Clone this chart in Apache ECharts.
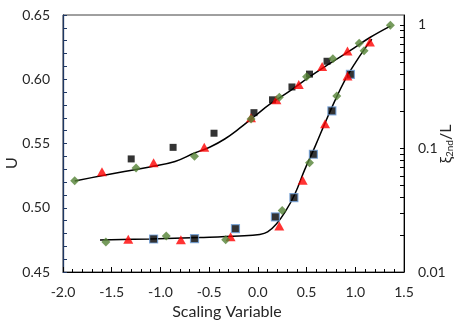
<!DOCTYPE html>
<html><head><meta charset="utf-8">
<script src="https://cdn.jsdelivr.net/npm/echarts@6/dist/echarts.min.js"></script>
<style>html,body{margin:0;padding:0;background:#fff}#c{width:465px;height:329px}</style>
</head><body><div id="c"></div>
<script>
// ---- Upper branch (left axis, U) ----
const uSqX = [-1.30, -0.87, -0.45, -0.04, 0.15, 0.35, 0.53, 0.71];
const uSqY = [0.538, 0.547, 0.558, 0.574, 0.584, 0.594, 0.604, 0.614];
const uDiX = [-1.88, -1.25, -0.65, -0.07, 0.22, 0.50, 0.77, 1.04, 1.36];
const uDiY = [0.521, 0.531, 0.540, 0.569, 0.586, 0.602, 0.616, 0.628, 0.642];
const uTrX = [-1.60, -1.07, -0.55, -0.07, 0.19, 0.42, 0.66, 0.92];
const uTrY = [0.528, 0.535, 0.547, 0.570, 0.584, 0.596, 0.610, 0.622];
const uFitX = [-1.88, -1.62, -1.37, -1.11, -0.85, -0.65, -0.49, -0.34, -0.19, -0.03, 0.12, 0.33, 0.53, 0.74, 0.95, 1.15, 1.36];
const uFitY = [0.5208, 0.5247, 0.5282, 0.5317, 0.5360, 0.5426, 0.5473, 0.5535, 0.5617, 0.5714, 0.5804, 0.5909, 0.6018, 0.6123, 0.6224, 0.6325, 0.6414];
// ---- Lower branch (right log axis, xi_2nd/L) ----
const lSqX = [-1.07, -0.65, -0.23, 0.18, 0.37, 0.57, 0.76, 0.95];
const lSqY = [0.0185, 0.0186, 0.0224, 0.0279, 0.0400, 0.0897, 0.201, 0.397];
const lDiX = [-1.56, -0.94, -0.33, 0.25, 0.53, 0.81, 1.09];
const lDiY = [0.0175, 0.0196, 0.0182, 0.0314, 0.0767, 0.265, 0.616];
const lTrX = [-1.33, -0.79, -0.28, 0.22, 0.46, 0.69, 0.92, 1.15];
const lTrY = [0.0184, 0.0182, 0.0193, 0.0236, 0.0553, 0.158, 0.386, 0.724];
const lFitX = [-1.62, -1.11, -0.60, -0.19, 0.02, 0.10, 0.19, 0.28, 0.38, 0.48, 0.59, 0.69, 0.79, 0.89, 1.00, 1.10, 1.17];
const lFitY = [0.01816, 0.01850, 0.01903, 0.01957, 0.02012, 0.02108, 0.02447, 0.03061, 0.04280, 0.06698, 0.1048, 0.1609, 0.2424, 0.3521, 0.4924, 0.6451, 0.7630];
// ---- Axis ticks ----
const rightMajor = [0.01, 0.1, 1];
const rightMinor = [0.02,0.03,0.04,0.05,0.06,0.07,0.08,0.09,0.2,0.3,0.4,0.5,0.6,0.7,0.8,0.9];

const zip = (a, b) => a.map((v, i) => [v, b[i]]);
const FONT = 'Lato';
const TXT = '#262626';

const chart = echarts.init(document.getElementById('c'), null, {renderer: 'canvas'});
chart.setOption({
  animation: false,
  grid: {left: 63, right: 61, top: 15, bottom: 57, show: true, borderColor: '#404040', borderWidth: 1},
  xAxis: {
    type: 'value', min: -2, max: 1.5, interval: 0.5,
    axisLine: {onZero: false, lineStyle: {color: '#000', width: 1}},
    axisTick: {inside: true, length: 5, lineStyle: {color: '#000'}},
    minorTick: {show: true, splitNumber: 5, length: 3, lineStyle: {color: '#000'}},
    splitLine: {show: false},
    axisLabel: {fontFamily: FONT, fontSize: 14, color: TXT, margin: 13, formatter: v => v.toFixed(1)}
  },
  yAxis: [{
    type: 'value', min: 0.45, max: 0.65, interval: 0.05, position: 'left',
    axisLine: {show: true, onZero: false, lineStyle: {color: '#1F3864', width: 1.3}},
    axisTick: {show: true, inside: true, length: 4, lineStyle: {color: '#1F3864'}},
    minorTick: {show: true, splitNumber: 5, length: 4, lineStyle: {color: '#1F3864'}},
    splitLine: {show: false},
    axisLabel: {fontFamily: FONT, fontSize: 14, color: TXT, margin: 13, formatter: v => v.toFixed(2)}
  }, {
    type: 'log', logBase: 10, min: 0.01, max: 1.2, position: 'right',
    axisLine: {show: true, onZero: false, lineStyle: {color: '#000', width: 1}},
    axisTick: {show: true, inside: true, length: 4, customValues: rightMajor.concat(rightMinor), lineStyle: {color: '#000'}},
    splitLine: {show: false},
    axisLabel: {fontFamily: FONT, fontSize: 14, color: TXT, margin: 14, customValues: rightMajor,
      formatter: v => String(Math.round(v * 1000) / 1000)}
  }],
  graphic: [
    {type: 'text', x: 227, y: 312, style: {text: 'Scaling Variable', font: '16px ' + FONT, fill: TXT, align: 'center', verticalAlign: 'middle'}},
    {type: 'text', x: 12, y: 163, rotation: Math.PI / 2, style: {text: 'U', font: '16px ' + FONT, fill: TXT, align: 'center', verticalAlign: 'middle'}},
    {type: 'text', x: 446, y: 144, rotation: Math.PI / 2, style: {
      text: '{a|ξ}{b|2nd}{a|/L}', align: 'center', verticalAlign: 'middle',
      rich: {a: {fontFamily: FONT, fontSize: 16, fill: TXT, lineHeight: 18, verticalAlign: 'middle'},
             b: {fontFamily: FONT, fontSize: 10, fill: TXT, lineHeight: 10, verticalAlign: 'bottom'}}}}
  ],
  series: [
    {type: 'line', yAxisIndex: 0, data: zip(uFitX, uFitY), smooth: 0.4, symbol: 'none', lineStyle: {color: '#000', width: 1.5}, z: 2},
    {type: 'line', yAxisIndex: 1, data: zip(lFitX, lFitY), smooth: 0.4, symbol: 'none', lineStyle: {color: '#000', width: 1.5}, z: 2},
    {type: 'scatter', yAxisIndex: 0, data: zip(uSqX, uSqY), symbol: 'rect', symbolSize: 7, itemStyle: {color: '#000'}, z: 3},
    {type: 'scatter', yAxisIndex: 1, data: zip(lSqX, lSqY), symbol: 'rect', symbolSize: 8, itemStyle: {color: '#000', borderColor: '#6F9FD8', borderWidth: 1.2}, z: 3},
    {type: 'scatter', yAxisIndex: 0, data: zip(uTrX, uTrY), symbol: 'triangle', symbolSize: [10, 9], itemStyle: {color: '#FF0000'}, z: 4},
    {type: 'scatter', yAxisIndex: 1, data: zip(lTrX, lTrY), symbol: 'triangle', symbolSize: [10, 9], itemStyle: {color: '#FF0000'}, z: 4},
    {type: 'scatter', yAxisIndex: 0, data: zip(uDiX, uDiY), symbol: 'diamond', symbolSize: 9, itemStyle: {color: '#548235'}, z: 5},
    {type: 'scatter', yAxisIndex: 1, data: zip(lDiX, lDiY), symbol: 'diamond', symbolSize: 9, itemStyle: {color: '#548235'}, z: 5}
  ]
});
</script></body></html>
